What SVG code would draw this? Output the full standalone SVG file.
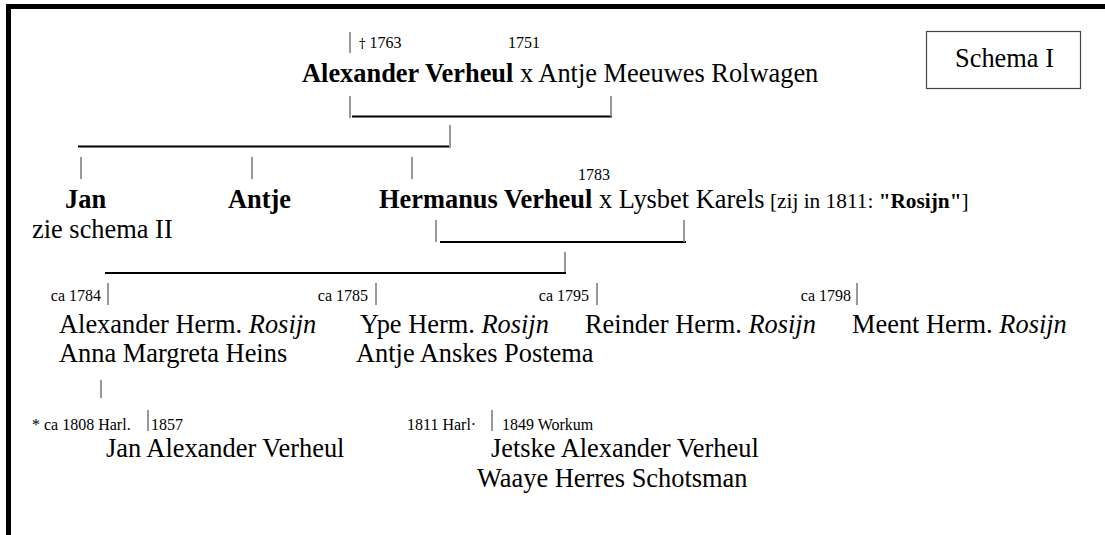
<svg xmlns="http://www.w3.org/2000/svg" width="1105" height="535" viewBox="0 0 1105 535">
<style>
text{font-family:"Liberation Serif","Times New Roman",serif;fill:#000}
.b{font-size:26.4px}
.s{font-size:16px}
.m{font-size:21.3px}
.bold{font-weight:bold}
.it{font-style:italic}
.dg{font-family:"DejaVu Serif",serif;font-size:13px}
.bar{stroke:#777;stroke-width:1.5;fill:none}
.hl{stroke:#000;stroke-width:2.2;fill:none}
</style>
<rect x="0" y="0" width="1105" height="535" fill="#fff"/>
<rect x="6" y="4" width="1099" height="5" fill="#000"/>
<rect x="6" y="4" width="5" height="531" fill="#000"/>
<g id="connectors">
<line class="bar" x1="350" y1="32" x2="350" y2="53"/>
<line class="bar" x1="350" y1="96" x2="350" y2="118"/>
<line class="hl" x1="352" y1="116.5" x2="612" y2="116.5"/>
<line class="bar" x1="611" y1="96" x2="611" y2="118"/>
<line class="bar" x1="450" y1="125" x2="450" y2="148"/>
<line class="hl" x1="78" y1="146.5" x2="449" y2="146.5"/>
<line class="bar" x1="81" y1="157" x2="81" y2="179"/>
<line class="bar" x1="252" y1="157" x2="252" y2="179"/>
<line class="bar" x1="412" y1="157" x2="412" y2="179"/>
<line class="bar" x1="436" y1="220" x2="436" y2="242"/>
<line class="hl" x1="440" y1="242" x2="686" y2="242"/>
<line class="bar" x1="684" y1="220" x2="684" y2="242"/>
<line class="bar" x1="565" y1="252" x2="565" y2="274"/>
<line class="hl" x1="105" y1="273" x2="566" y2="273"/>
<line class="bar" x1="108" y1="283" x2="108" y2="305"/>
<line class="bar" x1="376" y1="283" x2="376" y2="305"/>
<line class="bar" x1="597" y1="283" x2="597" y2="305"/>
<line class="bar" x1="857" y1="283" x2="857" y2="305"/>
<line class="bar" x1="101" y1="380" x2="101" y2="398"/>
<line class="bar" x1="148" y1="410" x2="148" y2="431"/>
<line class="bar" x1="492" y1="410" x2="492" y2="431"/>
</g>
<g id="schema">
<rect x="926.5" y="31.5" width="154" height="57" fill="none" stroke="#444" stroke-width="1.2"/>
<text class="b" x="955" y="67">Schema I</text>
</g>
<g id="alexander">
<text class="s" x="359" y="48"><tspan class="dg">†</tspan> 1763</text>
<text class="s" x="508" y="48">1751</text>
<text class="b" x="302" y="82"><tspan class="bold">Alexander Verheul</tspan> x Antje Meeuwes Rolwagen</text>
</g>
<g id="jan">
<text class="b bold" x="65" y="208">Jan</text>
<text class="b" x="32" y="238">zie schema II</text>
</g>
<g id="antje">
<text class="b bold" x="228" y="208">Antje</text>
</g>
<g id="hermanus">
<text class="s" x="578" y="180">1783</text>
<text class="b" x="379" y="208"><tspan class="bold">Hermanus Verheul</tspan> x Lysbet Karels</text>
<text class="m" x="770" y="208">[zij in 1811: <tspan class="bold">"Rosijn"</tspan>]</text>
</g>
<g id="alexander-herm">
<text class="s" x="101" y="301" text-anchor="end">ca 1784</text>
<text class="b" x="59" y="333">Alexander Herm. <tspan class="it">Rosijn</tspan></text>
<text class="b" x="59" y="362">Anna Margreta Heins</text>
</g>
<g id="ype">
<text class="s" x="368" y="301" text-anchor="end">ca 1785</text>
<text class="b" x="360" y="333">Ype Herm. <tspan class="it">Rosijn</tspan></text>
<text class="b" x="356" y="362">Antje Anskes Postema</text>
</g>
<g id="reinder">
<text class="s" x="589" y="301" text-anchor="end">ca 1795</text>
<text class="b" x="585" y="333">Reinder Herm. <tspan class="it">Rosijn</tspan></text>
</g>
<g id="meent">
<text class="s" x="851" y="301" text-anchor="end">ca 1798</text>
<text class="b" x="852" y="333">Meent Herm. <tspan class="it">Rosijn</tspan></text>
</g>
<g id="jan-alexander">
<text class="s" x="32" y="430">* ca 1808 Harl.</text>
<text class="s" x="151" y="430">1857</text>
<text class="b" x="106" y="457">Jan Alexander Verheul</text>
</g>
<g id="jetske">
<text class="s" x="407" y="430">1811 Harl·</text>
<text class="s" x="502" y="430">1849 Workum</text>
<text class="b" x="491" y="457">Jetske Alexander Verheul</text>
<text class="b" x="477" y="487">Waaye Herres Schotsman</text>
</g>
</svg>
